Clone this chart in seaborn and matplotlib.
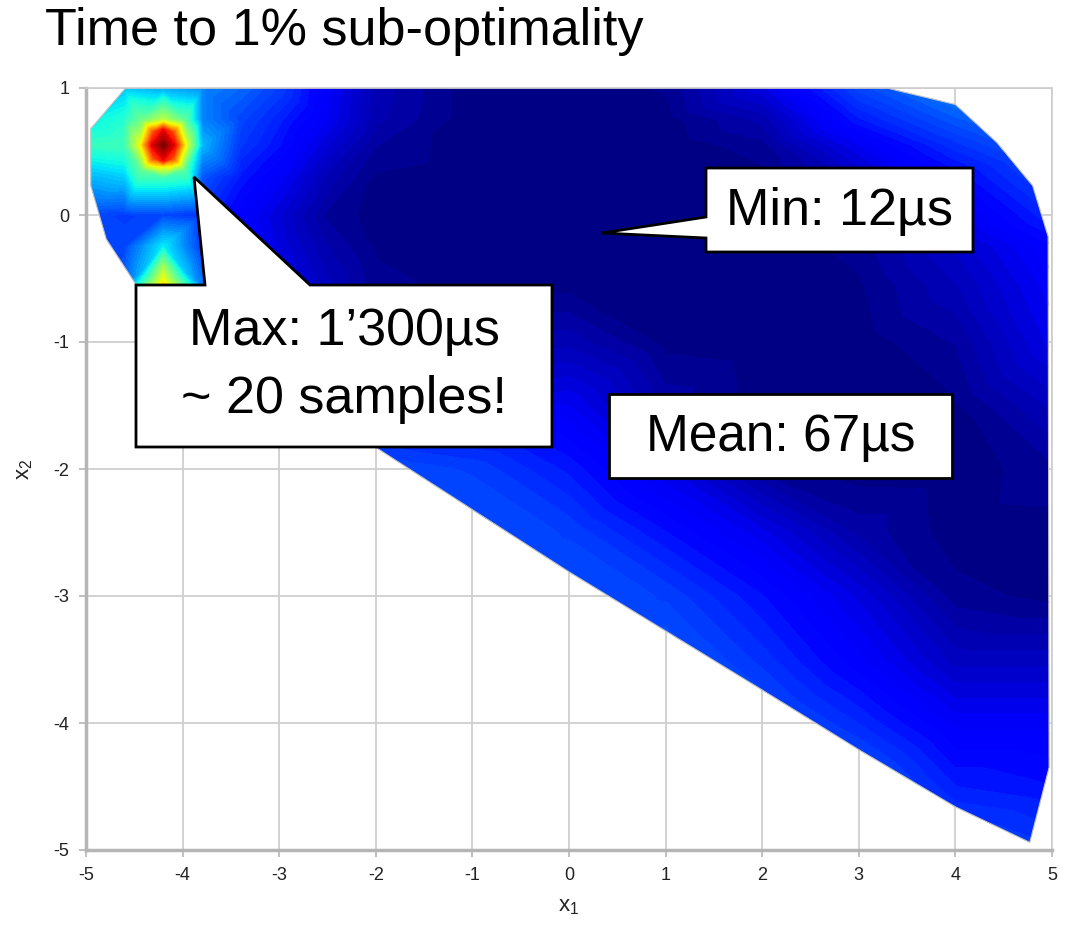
import numpy as np
import matplotlib
matplotlib.use("Agg")
import matplotlib.pyplot as plt
import matplotlib.tri as mtri
from matplotlib.patches import Polygon
import seaborn as sns

# ---------------- data ----------------
title = "Time to 1% sub-optimality"

# regular part of the sampled parameter points
x1_grid = [-5.0, -4.6, -4.2, -3.8, -3.4, -3.0, -2.5, -2.0, -1.0, 0.0, 1.0, 2.0, 3.0, 4.0, 5.0]
x2_grid = [1.0, 0.75, 0.55, 0.3, 0.0, -0.25, -0.55, -1.0, -1.5, -2.0, -2.5, -3.0, -3.5, -4.0, -4.5, -5.0]

# time to 1% sub-optimality [us]; one row per x2 value (top to bottom)
time_us = [
    [380, 420, 380, 340, 300, 250, 150, 70, 16, 18, 30, 120, 260, 340, 350],
    [470, 520, 750, 340, 260, 210, 140, 65, 16, 15, 20, 65, 200, 280, 330],
    [540, 560, 1300, 400, 240, 190, 110, 45, 15, 13, 15, 38, 140, 230, 300],
    [400, 430, 560, 280, 200, 150, 70, 25, 14, 12, 12, 22, 90, 175, 265],
    [260, 250, 260, 230, 160, 110, 40, 20, 14, 12, 12, 16, 55, 130, 220],
    [250, 260, 470, 240, 170, 120, 60, 25, 16, 13, 13, 15, 35, 95, 170],
    [250, 300, 880, 320, 180, 130, 80, 35, 20, 20, 15, 15, 25, 75, 150],
    [250, 260, 400, 260, 200, 160, 120, 90, 60, 70, 22, 16, 18, 45, 130],
    [270, 270, 270, 270, 260, 240, 210, 190, 160, 140, 55, 20, 15, 25, 80],
    [280, 280, 280, 280, 280, 280, 270, 270, 250, 200, 125, 40, 17, 16, 40],
    [290, 290, 290, 290, 290, 290, 290, 290, 280, 250, 190, 130, 55, 18, 20],
    [290, 290, 290, 290, 290, 290, 290, 290, 290, 280, 250, 190, 120, 35, 22],
    [290, 290, 290, 290, 290, 290, 290, 290, 290, 290, 290, 230, 160, 85, 85],
    [290, 290, 290, 290, 290, 290, 290, 290, 290, 290, 290, 280, 220, 150, 150],
    [290, 290, 290, 290, 290, 290, 290, 290, 290, 290, 290, 290, 290, 205, 190],
    [290, 290, 290, 290, 290, 290, 290, 290, 290, 290, 290, 290, 300, 270, 240],
]

# extra, denser samples around the two slow spots in the upper left
extra_x1 = [-4.32, -4.08, -4.2, -4.2, -4.3, -4.1, -4.3, -4.1, -4.44, -3.96, -4.2, -4.42, -3.98, -4.42, -3.98,
            -4.2, -4.42, -3.98]
extra_x2 = [0.55, 0.55, 0.67, 0.43, 0.65, 0.65, 0.45, 0.45, 0.55, 0.55, 0.38, 0.74, 0.74, 0.36, 0.36,
            -0.4, -0.45, -0.45]
extra_t = [1180, 1170, 1170, 1160, 1080, 1080, 1080, 1080, 820, 800, 820, 640, 620, 620, 600,
           700, 400, 420]

# boundary of the feasible parameter set
boundary_x1 = [-4.59, 3.29, 4.0, 4.43, 4.80, 4.96, 4.97, 4.77, 4.0, 3.0, 2.0, 0.0, -2.0, -4.48, -4.79, -4.95, -4.95]
boundary_x2 = [1.0, 1.0, 0.87, 0.57, 0.23, -0.17, -4.35, -4.94, -4.66, -4.21, -3.74, -2.81, -1.83, -0.55, -0.19, 0.23, 0.68]

t_min, t_max = 12, 1300
x_ticks = [-5, -4, -3, -2, -1, 0, 1, 2, 3, 4, 5]
y_ticks = [1, 0, -1, -2, -3, -4, -5]

max_text = "Max: 1\u2019300\u00b5s\n~ 20 samples!"
min_text = "Min: 12\u00b5s"
mean_text = "Mean: 67\u00b5s"

# ---------------- figure ----------------
sns.set_style("white")
plt.rcParams['font.family'] = ['Liberation Sans', 'DejaVu Sans']

W, H = 1066, 926
fig = plt.figure(figsize=(W / 100, H / 100), dpi=100)
ax = fig.add_axes([86 / W, 1 - 850 / H, (1052 - 86) / W, (850 - 88) / H])

gx, gy = np.meshgrid(np.array(x1_grid), np.array(x2_grid))
px = np.concatenate([gx.ravel(), np.array(extra_x1)])
py = np.concatenate([gy.ravel(), np.array(extra_x2)])
pt = np.concatenate([np.array(time_us, dtype=float).ravel(), np.array(extra_t, dtype=float)])
tri = mtri.Triangulation(px, py)

cmap = matplotlib.colormaps["jet"]
levels = np.linspace(t_min, t_max, 81)
cs = ax.tricontourf(tri, pt, levels=levels, cmap=cmap, vmin=t_min, vmax=t_max, zorder=2)
cs.set_edgecolor("face")
cs.set_linewidth(0.4)

region = Polygon(np.column_stack([boundary_x1, boundary_x2]), closed=True,
                 facecolor='none', edgecolor='#c0c0c0', lw=0.8, zorder=3)
ax.add_patch(region)
cs.set_clip_path(region)

ax.set_xlim(-5, 5)
ax.set_ylim(-5, 1)
ax.set_xticks(x_ticks)
ax.set_yticks(y_ticks)
ax.set_xticklabels([str(v) for v in x_ticks])
ax.set_yticklabels([str(v) for v in y_ticks])
ax.grid(True, color='#cfcfcf', lw=1.3)
ax.set_axisbelow(True)
for s in ['left', 'bottom']:
    ax.spines[s].set_color('#b5b5b5')
    ax.spines[s].set_linewidth(2.5)
for s in ['top', 'right']:
    ax.spines[s].set_color('#cccccc')
    ax.spines[s].set_linewidth(1.2)
ax.tick_params(axis='both', which='both', direction='out', length=5, width=1.2,
               color='#b5b5b5', labelsize=13, labelcolor='#222222',
               bottom=True, left=True, pad=7)
ax.set_xlabel(r'$\mathregular{x_1}$', fontsize=16, labelpad=9, color='#222222')
ax.set_ylabel(r'$\mathregular{x_2}$', fontsize=16, labelpad=13, color='#222222')

fig.text(45 / W, 1 - 32 / H, title, ha='left', va='center', fontsize=37.5, color='black')


def fpt(px_, py_):
    return (px_ / W, 1 - py_ / H)


def callout(points):
    p = Polygon([fpt(*q) for q in points], closed=True, transform=fig.transFigure,
                facecolor='white', edgecolor='black', lw=2, zorder=10)
    fig.patches.append(p)


callout([(136, 285), (205, 285), (194, 177), (310, 285), (552, 285), (552, 447), (136, 447)])
callout([(706, 168), (973, 168), (973, 252), (706, 252), (706, 238), (602, 233), (706, 217)])
callout([(609, 394), (952, 394), (952, 478), (609, 478)])

fig.text(*fpt(344, 366), max_text, ha='center', va='center', fontsize=37.5,
         linespacing=1.5, color='black', zorder=11)
fig.text(*fpt(839, 212), min_text, ha='center', va='center', fontsize=37.5,
         color='black', zorder=11)
fig.text(*fpt(781, 438), mean_text, ha='center', va='center', fontsize=37,
         color='black', zorder=11)

fig.savefig("out.png", dpi=100)
